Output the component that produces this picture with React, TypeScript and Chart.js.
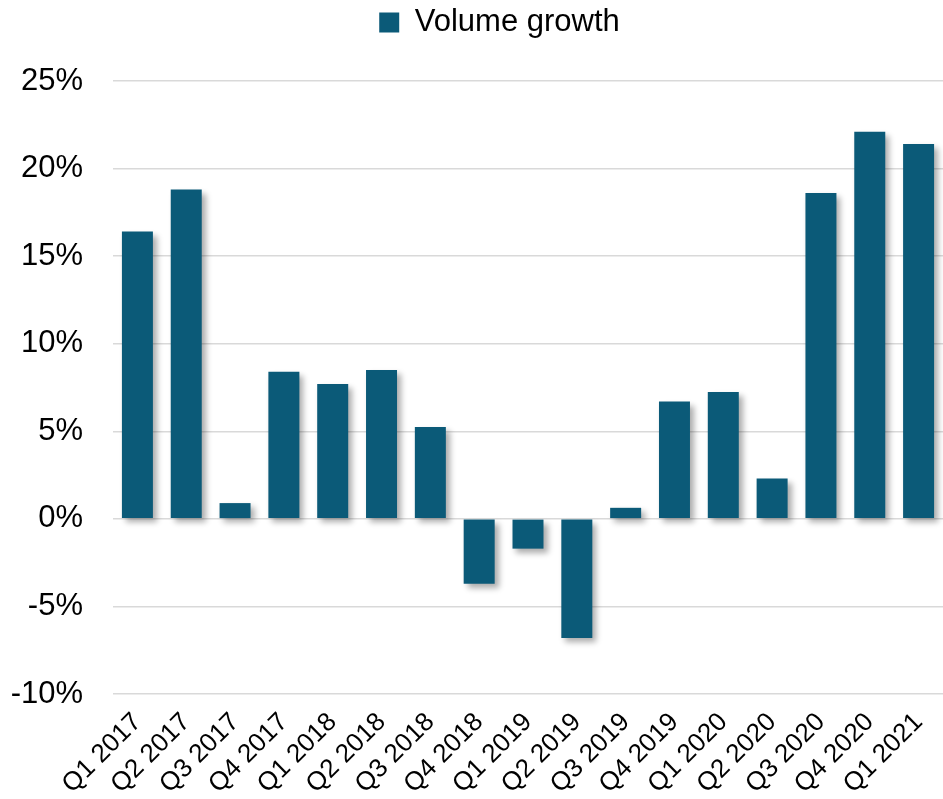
import React, { useEffect, useRef } from "react";
import { Chart, registerables } from "chart.js";

Chart.register(...registerables);

const categories = [
  "Q1 2017", "Q2 2017", "Q3 2017", "Q4 2017",
  "Q1 2018", "Q2 2018", "Q3 2018", "Q4 2018",
  "Q1 2019", "Q2 2019", "Q3 2019", "Q4 2019",
  "Q1 2020", "Q2 2020", "Q3 2020", "Q4 2020",
  "Q1 2021",
];
const volumeGrowth = [
  16.4, 18.8, 0.9, 8.4,
  7.7, 8.5, 5.25, -3.7,
  -1.7, -6.8, 0.63, 6.7,
  7.25, 2.3, 18.6, 22.1,
  21.4,
];
const seriesName = "Volume growth";
const yMin = -10;
const yMax = 25;
const yStep = 5;

const barShadow = {
  id: "barShadow",
  beforeDatasetsDraw(chart: any) {
    const ctx = chart.ctx;
    ctx.save();
    ctx.shadowColor = "rgba(0,0,0,0.33)";
    ctx.shadowBlur = 6;
    ctx.shadowOffsetX = 4;
    ctx.shadowOffsetY = 4;
  },
  afterDatasetsDraw(chart: any) {
    chart.ctx.restore();
  },
};

const legendTweak = {
  id: "legendTweak",
  beforeLayout(chart: any) {
    const lg = chart.legend;
    if (lg && !lg._tweaked) {
      const orig = lg.fit.bind(lg);
      lg.fit = function () {
        orig();
        this.height = 81;
      };
      lg._tweaked = true;
    }
  },
  afterLayout(chart: any) {
    const lg = chart.legend;
    if (lg) {
      lg.left += 28;
      lg.right += 28;
    }
  },
};

export default function App() {
  const ref = useRef<HTMLCanvasElement>(null);
  useEffect(() => {
    document.body.style.margin = "0";
    const font = "'Liberation Sans', Arial, sans-serif";
    const chart = new Chart(ref.current!, {
      type: "bar",
      data: {
        labels: categories,
        datasets: [
          {
            label: seriesName,
            data: volumeGrowth,
            backgroundColor: "#0b5a78",
            categoryPercentage: 1,
            barPercentage: 0.635,
          },
        ],
      },
      plugins: [barShadow, legendTweak],
      options: {
        animation: false,
        responsive: false,
        maintainAspectRatio: false,
        layout: { padding: 0 },
        plugins: {
          legend: {
            display: true,
            position: "top",
            labels: {
              boxWidth: 20,
              boxHeight: 20,
              color: "#000",
              font: { family: font, size: 31 },
              padding: 7,
            },
          },
          tooltip: { enabled: false },
        },
        scales: {
          x: {
            grid: { display: false, drawTicks: false },
            border: { display: false },
            afterFit(scale: any) {
              scale.paddingLeft = 0;
              scale.paddingRight = 0;
              scale.height = 105;
            },
            ticks: {
              color: "#000",
              font: { family: font, size: 26 },
              maxRotation: 45,
              minRotation: 45,
              autoSkip: false,
              padding: 13,
            },
          },
          y: {
            min: yMin,
            max: yMax,
            grid: { color: "#d9d9d9", lineWidth: 1.5, drawTicks: false },
            border: { display: false },
            afterFit(scale: any) {
              scale.width = 113;
            },
            ticks: {
              stepSize: yStep,
              color: "#000",
              font: { family: font, size: 31 },
              padding: 30,
              callback: (v: any) => v + "%",
            },
          },
        },
      },
    });
    return () => chart.destroy();
  }, []);
  return (
    <div style={{ width: 943, height: 799 }}>
      <canvas ref={ref} width={943} height={799} style={{ display: "block" }} />
    </div>
  );
}
